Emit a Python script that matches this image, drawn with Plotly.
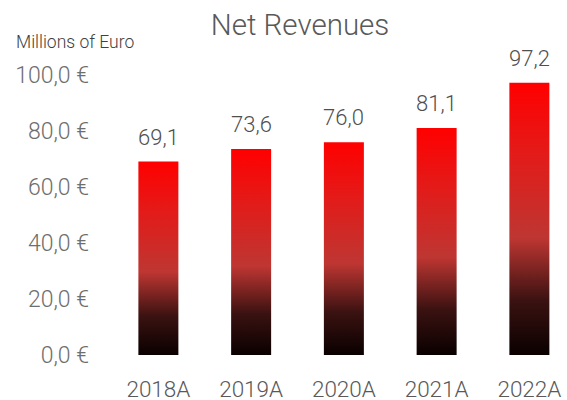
import plotly.graph_objects as go

categories = ["2018A", "2019A", "2020A", "2021A", "2022A"]
revenues = [69.1, 73.6, 76.0, 81.1, 97.2]
y_ticks = [0, 20, 40, 60, 80, 100]

TEXT = "#595959"
TICK = "#6e6e6e"
FONT = "Roboto"
W, H = 567, 400
L, R, T, B = 112, 0, 75, 45
cat_px = 92.75
bar_w = 40 / cat_px
x_max = -0.5 + (W - L - R) / cat_px

gradient = [[0.0, "#0a0000"], [0.2, "#3a1211"], [0.43, "#be3632"], [0.75, "#e41a18"], [1.0, "#ff0000"]]

def fmt(v):
    return f"{v:.1f}".replace(".", ",")

fig = go.Figure()
for i, (c, v) in enumerate(zip(categories, revenues)):
    fig.add_trace(go.Scatter(
        x=[i - bar_w / 2, i + bar_w / 2, i + bar_w / 2, i - bar_w / 2, i - bar_w / 2],
        y=[0, 0, v, v, 0],
        mode="lines", line=dict(width=0), fill="toself",
        fillgradient=dict(type="vertical", colorscale=gradient, start=0, stop=v),
        hoverinfo="skip", showlegend=False,
    ))

label_font = dict(family=FONT, size=22, color="#4f4f4f", weight=300)
annotations = [dict(x=i, y=v, xref="x", yref="y", text=fmt(v), showarrow=False,
                    xanchor="center", yanchor="bottom", yshift=10, font=label_font)
               for i, v in enumerate(revenues)]
annotations.append(dict(text="Millions of Euro", xref="paper", yref="paper",
                        x=(14 - L) / (W - L - R), y=(H - B - 42) / (H - T - B),
                        xanchor="left", yanchor="middle", showarrow=False,
                        font=dict(family=FONT, size=17.5, color="#404040", weight=300)))

fig.update_layout(
    width=W, height=H,
    margin=dict(l=L, r=R, t=T, b=B),
    plot_bgcolor="white", paper_bgcolor="white",
    font=dict(family=FONT, color=TEXT, weight=300),
    title=dict(text="Net Revenues", x=300 / W, xref="container", xanchor="center",
               y=1 - 25 / H, yref="container", yanchor="middle",
               font=dict(family=FONT, size=29.5, color=TEXT, weight=300)),
    xaxis=dict(range=[-0.5, x_max], tickmode="array", tickvals=list(range(len(categories))),
               ticktext=categories, showgrid=False, zeroline=False, showline=False,
               automargin=False, ticks="",
               ticklabelstandoff=18, tickfont=dict(family=FONT, size=22.5, color=TEXT, weight=300)),
    yaxis=dict(range=[0, 100], tickmode="array", tickvals=y_ticks,
               ticktext=[fmt(t) + " €" for t in y_ticks],
               showgrid=False, zeroline=False, showline=False,
               automargin=False, ticks="",
               ticklabelstandoff=22, tickfont=dict(family=FONT, size=23, color=TICK, weight=300)),
    annotations=annotations,
)

fig.write_html("out.html", config={"displayModeBar": False},
               post_script="document.body.style.margin='0';document.body.style.overflow='hidden';")
